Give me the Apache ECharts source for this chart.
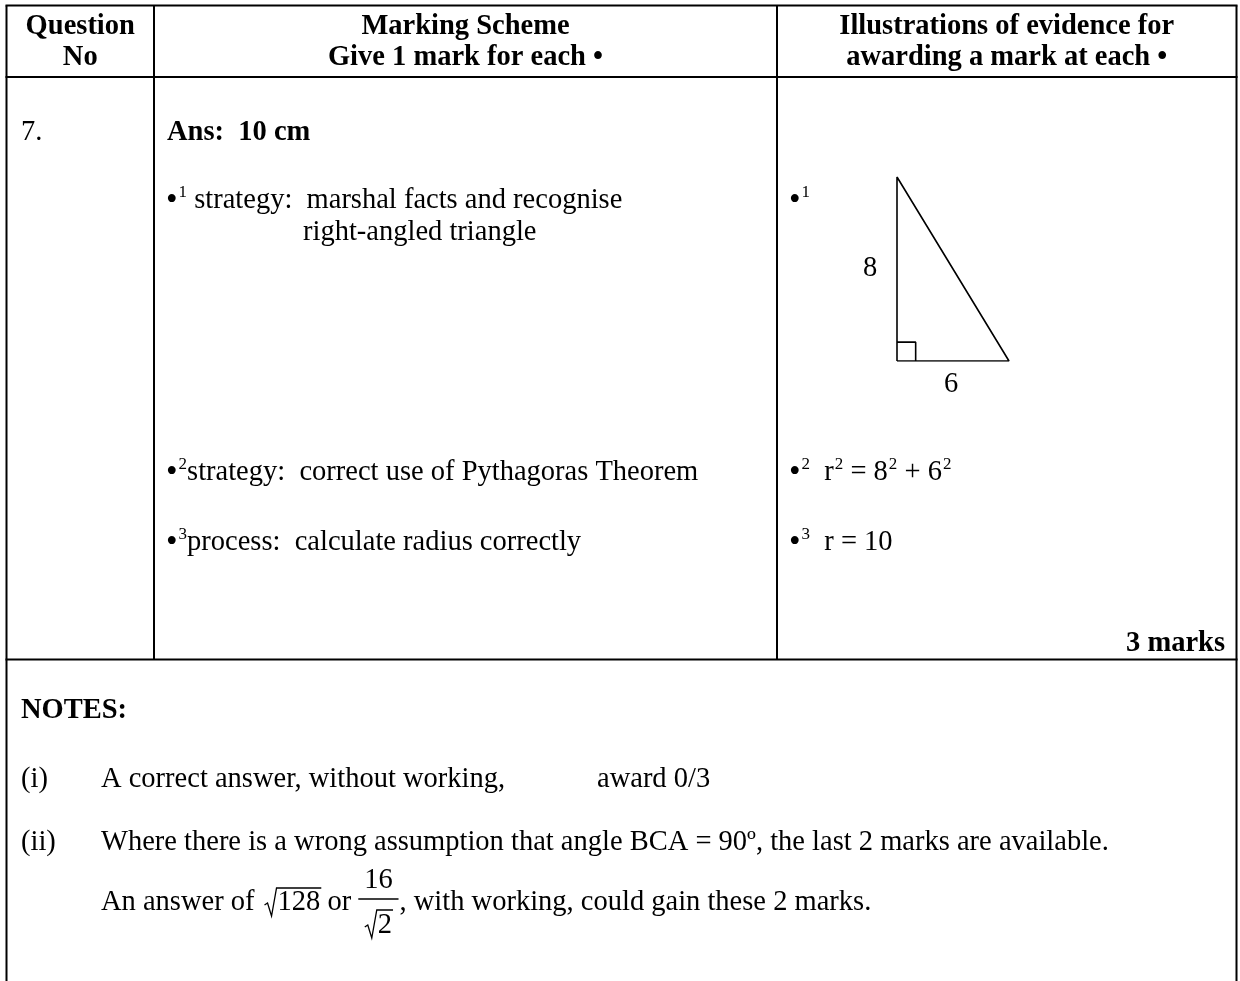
<!DOCTYPE html>
<html>
<head>
<meta charset="utf-8">
<script src="https://cdn.jsdelivr.net/npm/echarts@6/dist/echarts.min.js"></script>
<style>
  html, body { margin: 0; padding: 0; background: #fff; }
  #chart { width: 1240px; height: 981px; }
</style>
</head>
<body>
<div id="chart"></div>
<script>
// table content
const headers = [
  ['Question', 'No'],
  ['Marking Scheme', 'Give 1 mark for each \u2022'],
  ['Illustrations of evidence for', 'awarding a mark at each \u2022'],
];
const questionNo = '7.';
const answerText = 'Ans:  10 cm';
const schemeLines = [
  '{dot|\u2022}{sup|1}{t| strategy:  marshal facts and recognise}',
  '{dot|\u2022}{sup|2}{t|strategy:  correct use of Pythagoras Theorem}',
  '{dot|\u2022}{sup|3}{t|process:  calculate radius correctly}',
];
const schemeContinuation = 'right-angled triangle';
const evidenceLines = [
  '{dot|\u2022}{sup|1}',
  '{dot|\u2022}{sup|2}{t|  r}{sup|2}{t| = 8}{sup|2}{t| + 6}{sup|2}',
  '{dot|\u2022}{sup|3}{t|  r = 10}',
];
const marksText = '3 marks';
const notesTitle = 'NOTES:';
const noteLabels = ['(i)', '(ii)'];
const note1 = ['A correct answer, without working,', 'award 0/3'];
const note2 = 'Where there is a wrong assumption that angle BCA = 90\u00ba, the last 2 marks are available.';
const note3 = ['An answer of', '128', 'or', '16', '2', ', with working, could gain these 2 marks.'];

// triangle sketch: legs 6 (base) and 8 (height)
const triBase = 6;
const triHeight = 8;
const trianglePoints = [[0, 0], [0, triHeight], [triBase, 0], [0, 0]];
const rightAngleBox = [[0, 0.82], [1.0, 0.82], [1.0, 0]];
const legLabels = [
  { value: [0, triHeight / 2], text: '8', dx: -27, dy: 0 },
  { value: [triBase / 2, 0], text: '6', dx: -2, dy: 24 },
];

const FONT = '"Liberation Serif", "Times New Roman", serif';
const FS = 28.5;

const measureCtx = document.createElement('canvas').getContext('2d');
const measure = (s, bold) => {
  measureCtx.font = (bold ? 'bold ' : '') + FS + 'px ' + FONT;
  return measureCtx.measureText(s).width;
};

const text = (x, y, s, opt = {}) => ({
  type: 'text',
  x, y,
  silent: true,
  style: {
    text: s,
    fill: '#000',
    font: (opt.bold ? 'bold ' : '') + (opt.size || FS) + 'px ' + FONT,
    align: opt.align || 'left',
    textAlign: opt.align || 'left',
    verticalAlign: 'middle',
    textVerticalAlign: 'middle',
    rich: opt.rich,
  },
});

const rich = {
  t: { fontSize: FS, fontFamily: FONT, lineHeight: 34, fill: '#000' },
  dot: { fontSize: 33, fontFamily: FONT, lineHeight: 34, fill: '#000' },
  sup: { fontSize: 17, fontFamily: FONT, verticalAlign: 'top', padding: [0, 0, 0, 1], fill: '#000' },
};

const line = (x1, y1, x2, y2, w = 2) => ({
  type: 'line',
  silent: true,
  shape: { x1, y1, x2, y2 },
  style: { stroke: '#000', lineWidth: w },
});

const radical = (x, yTop, yBottom, yTick, endX) => ({
  type: 'polyline',
  silent: true,
  shape: {
    points: [[x, yTick + 1], [x + 3, yTick - 1], [x + 7, yBottom], [x + 12, yTop], [endX, yTop]],
  },
  style: { stroke: '#000', lineWidth: 1.3, fill: null },
});

const L = 6.5, R = 1236.5, C1 = 154, C2 = 777;
const TOP = 5.5, HEAD = 77, ROW = 659.5;

const buildGraphic = () => {
  const els = [
    line(L - 1, TOP, R + 1, TOP),
    line(L, TOP, L, 981),
    line(R, TOP, R, 981),
    line(C1, TOP, C1, ROW),
    line(C2, TOP, C2, ROW),
    line(L - 1, HEAD, R + 1, HEAD),
    line(L - 1, ROW, R + 1, ROW),
  ];
  const centers = [(L + C1) / 2, (C1 + C2) / 2, (C2 + R) / 2];
  headers.forEach((h, i) => {
    els.push(text(centers[i], 27, h[0], { bold: true, align: 'center' }));
    els.push(text(centers[i], 58, h[1], { bold: true, align: 'center' }));
  });
  els.push(text(21, 133, questionNo));
  els.push(text(167, 133, answerText, { bold: true }));

  const rowY = [201, 473, 543];
  schemeLines.forEach((s, i) => els.push(text(166, rowY[i], s, { rich })));
  els.push(text(303, 233, schemeContinuation));
  evidenceLines.forEach((s, i) => els.push(text(789, rowY[i], s, { rich })));
  els.push(text(1225, 644, marksText, { bold: true, align: 'right' }));

  els.push(text(21, 711, notesTitle, { bold: true }));
  els.push(text(21, 780, noteLabels[0]));
  els.push(text(101, 780, note1[0]));
  els.push(text(597, 780, note1[1]));
  els.push(text(21, 843, noteLabels[1]));
  els.push(text(101, 843, note2));

  // "An answer of √128 or 16/√2, ..."
  const y = 903;
  let x = 101;
  els.push(text(x, y, note3[0]));
  x += measure(note3[0]) + 10;
  const w128 = measure(note3[1]);
  els.push(radical(x, y - 15, y + 13, y + 1, x + 14 + w128));
  els.push(text(x + 13, y, note3[1]));
  x += 13 + w128 + measure(' ');
  els.push(text(x, y, note3[2]));
  x += measure(note3[2] + ' ');
  const w2 = measure(note3[4]);
  const fw = w2 + 26;
  els.push(line(x, y - 4, x + fw, y - 4, 1.3));
  els.push(text(x + fw / 2, y - 22, note3[3], { align: 'center' }));
  const rx = x + fw / 2 - (w2 + 13) / 2;
  els.push(radical(rx, y + 7, y + 35, y + 23, rx + 14 + w2));
  els.push(text(rx + 13, y + 23, note3[4]));
  x += fw + 1;
  els.push(text(x, y, note3[5]));
  return els;
};

const chart = echarts.init(document.getElementById('chart'));
chart.setOption({
  animation: false,
  backgroundColor: '#fff',
  grid: { left: 897, top: 177, width: 112, height: 184 },
  xAxis: { type: 'value', min: 0, max: triBase, show: false },
  yAxis: { type: 'value', min: 0, max: triHeight, show: false },
  series: [
    {
      type: 'line',
      data: trianglePoints,
      symbol: 'none',
      silent: true,
      lineStyle: { color: '#000', width: 1.6 },
    },
    {
      type: 'line',
      data: rightAngleBox,
      symbol: 'none',
      silent: true,
      lineStyle: { color: '#000', width: 1.6 },
    },
  ],
  graphic: { elements: buildGraphic() },
});

// leg lengths placed through the grid's own scales
const legEls = legLabels.map((d) => {
  const [px, py] = chart.convertToPixel({ gridIndex: 0 }, d.value);
  return text(px + d.dx, py + d.dy, d.text, { align: 'center' });
});
chart.setOption({ graphic: { elements: buildGraphic().concat(legEls) } });
</script>
</body>
</html>
